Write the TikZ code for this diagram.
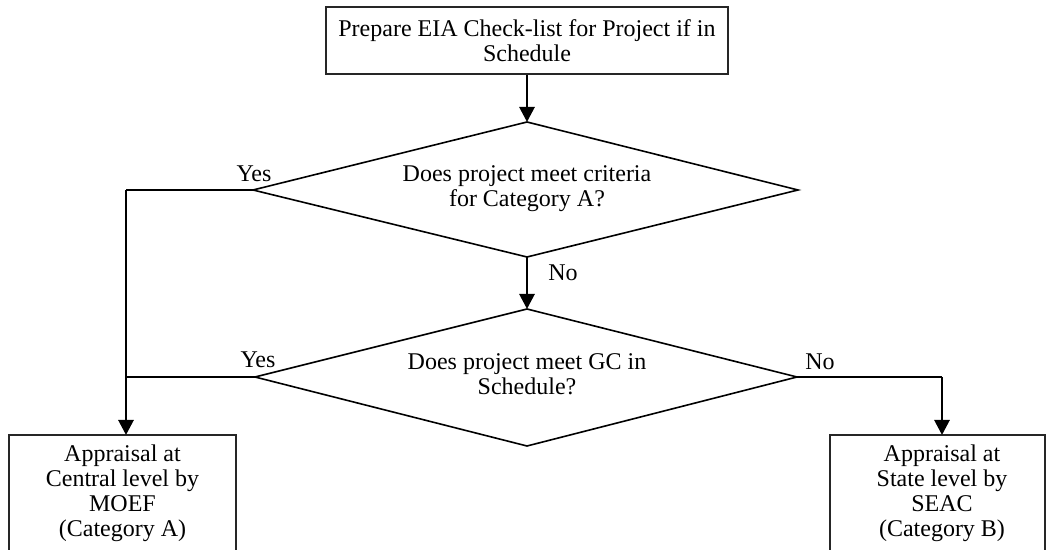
\documentclass[tikz,border=0pt]{standalone}
\usepackage{fontspec}
\setmainfont{Liberation Serif}
\usetikzlibrary{arrows.meta}
\begin{document}
\begin{tikzpicture}[x=0.5pt,y=-0.5pt,
  txt/.style={font=\fontsize{12}{12.5}\selectfont, align=center, inner sep=0pt},
  lbl/.style={font=\fontsize{12}{12.5}\selectfont, inner sep=0pt},
  thinline/.style={line width=0.8pt},
  boxline/.style={line width=0.7pt, draw=black!85},
  arrowline/.style={line width=1.4pt, -{Triangle[length=7.5pt,width=7.5pt]}}]
\useasboundingbox (0,0) rectangle (1046,550);
\clip (0,0) rectangle (1046,550);
\fill[white] (0,0) rectangle (1046,550);

% top box
\node[txt, boxline, draw, minimum width=201pt, minimum height=33.5pt] (top) at (527,40.5)
  {Prepare EIA Check-list for Project if in\\Schedule};

% diamond 1
\coordinate (d1t) at (527,122);
\coordinate (d1l) at (253,190);
\coordinate (d1r) at (798,190);
\coordinate (d1b) at (527,257);
\draw[thinline] (d1t) -- (d1r) -- (d1b) -- (d1l) -- cycle;
\node[txt] (q1) at (527,189) {Does project meet criteria\\for Category A?};

% diamond 2
\coordinate (d2t) at (527,309);
\coordinate (d2l) at (255,377);
\coordinate (d2r) at (797,377);
\coordinate (d2b) at (527,446);
\draw[thinline] (d2t) -- (d2r) -- (d2b) -- (d2l) -- cycle;
\node[txt] (q2) at (527,374) {Does project meet GC in\\Schedule?};

% bottom boxes
\coordinate (lbt) at (126,435);
\coordinate (rbt) at (942,435);
\draw[boxline] (9,570) |- (236,435) -- (236,570);
\draw[boxline] (830,570) |- (1045,435) -- (1045,570);
\node[txt] (lbox) at (122.5,493) {Appraisal at\\Central level by\\MOEF\\(Category A)};
\node[txt] (rbox) at (942,493) {Appraisal at\\State level by\\SEAC\\(Category B)};

% connectors
\draw[arrowline] (top.south) -- (d1t);
\draw[arrowline] (d1b) -- (d2t);
\coordinate (c1) at (126,190);
\coordinate (c2) at (126,377);
\coordinate (c3) at (942,377);
\draw[thinline] (d1l) -- (c1);
\draw[thinline] (d2l) -- (c2);
\draw[arrowline] (c1) -- (lbt);
\draw[thinline] (d2r) -- (c3);
\draw[arrowline] (c3) -- (rbt);

% labels
\node[lbl] (yes1) at (254,174) {Yes};
\node[lbl] (yes2) at (258,360) {Yes};
\node[lbl] (no1) at (563,273) {No};
\node[lbl] (no2) at (820,362) {No};
\end{tikzpicture}
\end{document}
